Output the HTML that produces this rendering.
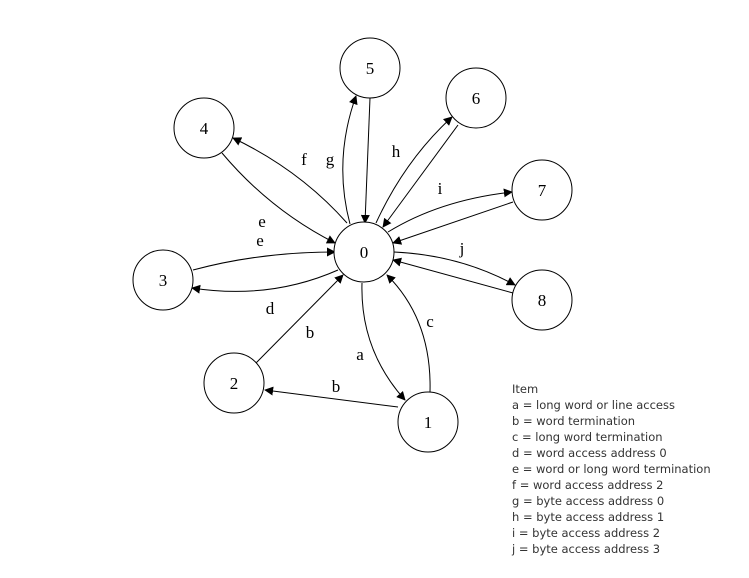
<!DOCTYPE html>
<html><head><style>
html,body{margin:0;padding:0;background:#fff;}
svg{display:block;}
</style></head><body>
<svg width="749" height="578" viewBox="0 0 749 578" xmlns="http://www.w3.org/2000/svg">
<defs>
<marker id="a" viewBox="0 0 10 10" refX="9" refY="5" markerWidth="9" markerHeight="9" markerUnits="userSpaceOnUse" orient="auto">
<path d="M0,0 L10,5 L0,10 z" fill="#000"/>
</marker>
</defs>
<g fill="none" stroke="#000" stroke-width="1" marker-end="url(#a)">
<path d="M350,224 Q333,160 356,96"/>
<path d="M370,98 L365,223"/>
<path d="M222,153 Q270,210 335,243"/>
<path d="M347,223 Q300,170 233,138"/>
<path d="M376,223 Q405,160 452,117"/>
<path d="M458,125 L383,227"/>
<path d="M388,232 Q440,200 512,192"/>
<path d="M513,202 L393,243"/>
<path d="M394,252 Q460,255 515,285"/>
<path d="M513,293 L393,260"/>
<path d="M193,270 Q260,252 335,252"/>
<path d="M338,270 Q270,300 192,288"/>
<path d="M256,363 L343,275"/>
<path d="M362,283 Q360,350 405,400"/>
<path d="M430,392 Q432,320 387,275"/>
<path d="M398,407 L265,390"/>
</g>
<g fill="#fff" stroke="#000" stroke-width="1">
<circle cx="364" cy="252" r="30"/>
<circle cx="370" cy="68" r="30"/>
<circle cx="476" cy="98" r="30"/>
<circle cx="204" cy="128" r="30"/>
<circle cx="542" cy="190" r="30"/>
<circle cx="163" cy="280" r="30"/>
<circle cx="542" cy="300" r="30"/>
<circle cx="234" cy="383" r="30"/>
<circle cx="428" cy="422" r="30"/>
</g>
<g font-family="Liberation Serif, serif" font-size="17" text-anchor="middle" fill="#000">
<text x="364" y="258">0</text>
<text x="370" y="74">5</text>
<text x="476" y="104">6</text>
<text x="204" y="134">4</text>
<text x="542" y="196">7</text>
<text x="163" y="286">3</text>
<text x="542" y="306">8</text>
<text x="234" y="389">2</text>
<text x="428" y="428">1</text>
</g>
<g font-family="Liberation Serif, serif" font-size="17" text-anchor="middle" fill="#000">
<text x="304" y="165">f</text>
<text x="330" y="165">g</text>
<text x="396" y="157">h</text>
<text x="440" y="194">i</text>
<text x="262" y="227">e</text>
<text x="260" y="246">e</text>
<text x="462" y="254">j</text>
<text x="270" y="314">d</text>
<text x="310" y="338">b</text>
<text x="336" y="392">b</text>
<text x="360" y="360">a</text>
<text x="430" y="327">c</text>
</g>
<g font-family="DejaVu Sans, sans-serif" font-size="11.5" fill="#333">
<text x="512" y="393">Item</text>
<text x="512" y="409">a = long word or line access</text>
<text x="512" y="425">b = word termination</text>
<text x="512" y="441">c = long word termination</text>
<text x="512" y="457">d = word access address 0</text>
<text x="512" y="473">e = word or long word termination</text>
<text x="512" y="489">f = word access address 2</text>
<text x="512" y="505">g = byte access address 0</text>
<text x="512" y="521">h =  byte access address 1</text>
<text x="512" y="537">i = byte access address 2</text>
<text x="512" y="553">j = byte access address 3</text>
</g>
</svg>
</body></html>
